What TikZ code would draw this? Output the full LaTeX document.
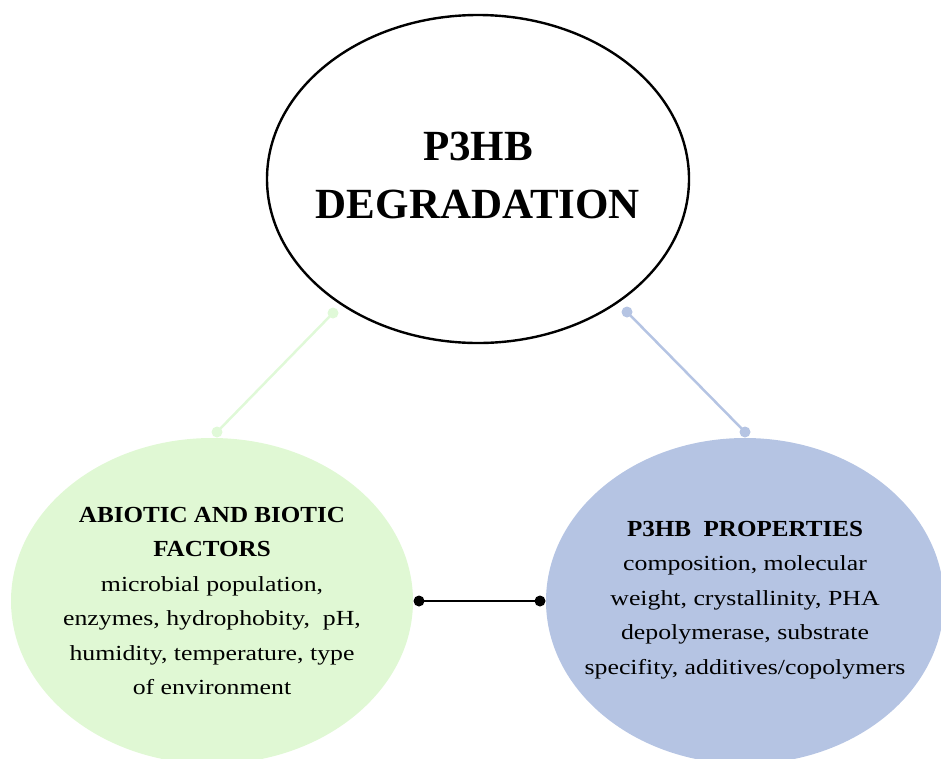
\documentclass[tikz,border=0pt]{standalone}
\usepackage{fontspec}
\setmainfont{Liberation Serif}
\newfontfamily\bodyfont[FakeStretch=1.2]{Liberation Serif}
\newfontfamily\headfont[FakeStretch=1.09]{Liberation Serif}
\usetikzlibrary{shapes.geometric}
\definecolor{leafgreen}{HTML}{E0F8D4}
\definecolor{leafline}{HTML}{E0F9D8}
\definecolor{skyblue}{HTML}{B5C4E3}
\tikzset{
  bub/.style={ellipse, inner sep=0pt, outer sep=0pt},
  txt/.style={align=center, inner sep=0pt},
  title/.style={font=\fontsize{43}{58}\selectfont\bfseries},
  body/.style={font=\bodyfont\fontsize{21.5}{34.5}\selectfont},
  dotg/.style={fill=leafline, draw=none},
  dotb/.style={fill=skyblue, draw=none},
}
\newcommand{\hd}[1]{{\headfont\fontsize{23}{34.5}\selectfont\bfseries #1}}
\begin{document}
\begin{tikzpicture}[x=1pt,y=-1pt]
\useasboundingbox (0,0) rectangle (941,758);
\node[bub, draw=black, line width=2.4pt, minimum width=422, minimum height=328] (top) at (478,179) {};
\node[txt, title] (toptxt) at ([yshift=4]top.center) {P3HB\\DEGRADATION};
\node[bub, fill=leafgreen, minimum width=402, minimum height=326] (left) at (212,601) {};
\node[txt, body] (lefttxt) at (left.center)
  {\hd{ABIOTIC AND BIOTIC}\\\hd{FACTORS}\\microbial population,\\enzymes, hydrophobity,\ \ pH,\\humidity, temperature, type\\of environment};
\node[bub, fill=skyblue, minimum width=398, minimum height=326] (right) at (745,601) {};
\node[txt, body] (righttxt) at ([yshift=1]right.center)
  {\hd{P3HB\ \ PROPERTIES}\\composition, molecular\\weight, crystallinity, PHA\\depolymerase, substrate\\specifity, additives/copolymers};
\coordinate (ga) at (333,313);
\coordinate (gb) at (217,432);
\coordinate (ba) at (627,312);
\coordinate (bb) at (745,432);
\coordinate (ka) at (419,601);
\coordinate (kb) at (540,601);
\draw[leafline, line width=2.5pt] (ga) -- (gb);
\fill[dotg] (ga) circle (5.5);
\fill[dotg] (gb) circle (5.5);
\draw[skyblue, line width=2.5pt] (ba) -- (bb);
\fill[dotb] (ba) circle (5.5);
\fill[dotb] (bb) circle (5.5);
\draw[black, line width=2.8pt] (ka) -- (kb);
\fill (ka) circle (5.5);
\fill (kb) circle (5.5);
\end{tikzpicture}
\end{document}
